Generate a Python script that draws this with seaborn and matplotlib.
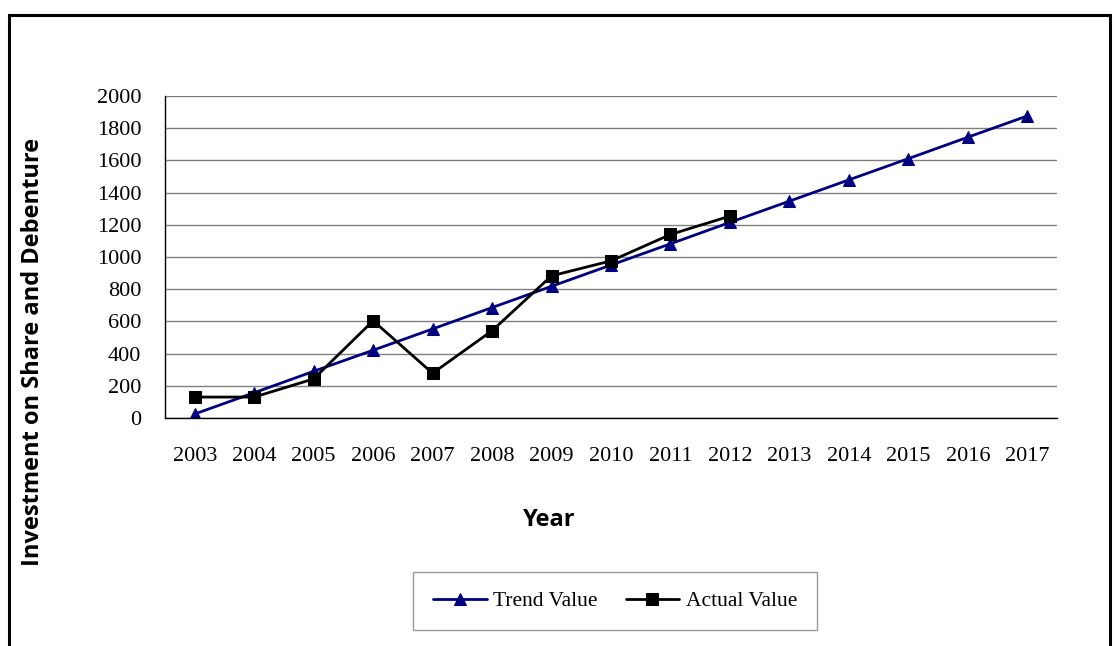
import matplotlib
matplotlib.use("Agg")
import matplotlib.pyplot as plt
import seaborn as sns
import pandas as pd
from matplotlib.patches import Rectangle

years = ["2003", "2004", "2005", "2006", "2007", "2008", "2009", "2010",
         "2011", "2012", "2013", "2014", "2015", "2016", "2017"]
trend_value = [25, 157, 290, 421, 553, 686, 818, 950, 1082, 1215,
               1347, 1479, 1611, 1744, 1876]
actual_years = years[:10]
actual_value = [130, 130, 243, 604, 278, 542, 883, 976, 1140, 1254]

trend_df = pd.DataFrame({"pos": range(len(years)), "value": trend_value})
actual_df = pd.DataFrame({"pos": range(len(actual_years)), "value": actual_value})

sns.set_style("white")
plt.rcParams["text.color"] = "black"
plt.rcParams["xtick.color"] = "black"
plt.rcParams["ytick.color"] = "black"

fig = plt.figure(figsize=(11.17, 6.46), dpi=100)
ax = fig.add_axes([165 / 1117, 1 - 418 / 646, (1057 - 165) / 1117, (418 - 96) / 646])

sns.lineplot(data=trend_df, x="pos", y="value", ax=ax, color="#000080",
             marker="^", markersize=9, markeredgecolor="#000080",
             linewidth=2, label="Trend Value")
sns.lineplot(data=actual_df, x="pos", y="value", ax=ax, color="black",
             marker="s", markersize=9, markeredgecolor="black",
             linewidth=2, label="Actual Value")

ax.set_xlim(-0.5, len(years) - 0.5)
ax.set_ylim(0, 2000)
ax.set_yticks(range(0, 2001, 200))
ax.yaxis.grid(True, color="#808080", linewidth=1)
ax.set_axisbelow(True)

serif = "Liberation Serif"
ax.set_xticks(range(len(years)))
ax.set_xticklabels(years, fontfamily=serif, fontsize=16)
ax.set_xticks([i - 0.5 for i in range(len(years) + 1)], minor=True)
ax.tick_params(axis="x", which="major", length=0, pad=21, labelcolor="black")
ax.tick_params(axis="x", which="minor", length=7, color="#808080", width=1, direction="out")
ax.tick_params(axis="y", length=7, width=1, color="black", direction="out", pad=10,
               labelcolor="black")
for lab in ax.get_yticklabels():
    lab.set_fontfamily(serif)
    lab.set_fontsize(16)

for s in ["top", "right"]:
    ax.spines[s].set_visible(False)
for s in ["left", "bottom"]:
    ax.spines[s].set_color("black")
    ax.spines[s].set_linewidth(1)

ax.set_xlabel("")
ax.set_ylabel("")
fig.text(33 / 1117, 1 - 352 / 646, "Investment on Share and Debenture",
         rotation=90, ha="center", va="center", fontfamily="Open Sans",
         fontweight="bold", fontsize=17, color="black")
fig.text(549 / 1117, 1 - 520 / 646, "Year", ha="center", va="center",
         fontfamily="Open Sans", fontweight="bold", fontsize=17, color="black")

leg = ax.legend(loc="center", bbox_to_anchor=(615 / 1117, 1 - 601 / 646),
                bbox_transform=fig.transFigure, ncol=2, frameon=True,
                fancybox=False, edgecolor="#808080", prop={"family": serif, "size": 15.5},
                handlelength=2.5, handletextpad=0.3, columnspacing=1.3,
                borderpad=0.9, borderaxespad=0)
leg.get_frame().set_linewidth(1)

fig.patches.append(Rectangle((9 / 1117, -0.1), (1110 - 9) / 1117, 1.1 - 15 / 646,
                             transform=fig.transFigure, fill=False,
                             edgecolor="black", linewidth=2.2, clip_on=False))

fig.savefig("out.png", dpi=100)
